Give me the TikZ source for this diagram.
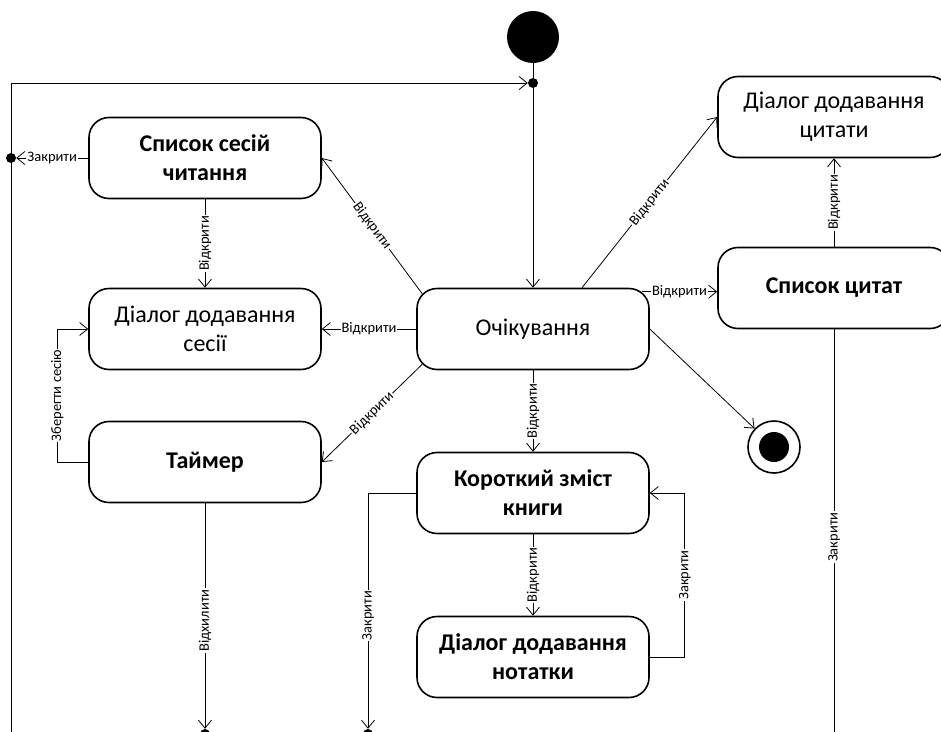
\documentclass[tikz,border=0pt]{standalone}
\usepackage{fontspec}
\setmainfont{Carlito}
\usetikzlibrary{arrows.meta}

\begin{document}
\begin{tikzpicture}[x=1pt, y=-1pt,
    stbox/.style={draw, line width=1.6pt, rounded corners=20pt, align=center, minimum width=232pt, minimum height=81pt, font=\fontsize{24}{29}\selectfont},
    stboxb/.style={stbox, font=\fontsize{24}{29}\selectfont\bfseries},
    flow/.style={line width=0.8pt, -{Straight Barb[length=8pt, width=13pt]}},
    lbl/.style={fill=white, inner sep=1pt, font=\fontsize{14.5}{14.5}\selectfont},
    vlbl/.style={lbl, rotate=90},
    dot/.style={circle, fill, inner sep=0pt, minimum size=10pt}]

    \useasboundingbox (0,0) rectangle (941,731);
    \clip (0,0) rectangle (941,731);

    \node[stboxb] (sessions) at (205,158) {Список сесій\\читання};
    \node[stbox] (addsession) at (205,329) {Діалог додавання\\сесії};
    \node[stboxb] (timer) at (205,462) {Таймер};
    \node[stbox] (idle) at (533,329) {Очікування};
    \node[stbox] (addquote) at (834,117) {Діалог додавання\\цитати};
    \node[stboxb] (quotes) at (834,288) {Список цитат};
    \node[stboxb] (summary) at (533,493) {Короткий зміст\\книги};
    \node[stboxb] (addnote) at (533,657) {Діалог додавання\\нотатки};

    \node[circle, fill, minimum size=52pt] (start) at (533,37) {};
    \node[dot] (fork) at (533,83) {};
    \node[circle, draw, line width=1.6pt, minimum size=52pt] (final) at (774,447) {};
    \fill (final) circle (15pt);
    \node[dot] (closedot) at (11,158) {};
    \node[dot] (exitA) at (205,734) {};
    \node[dot] (exitB) at (368,734) {};
    \coordinate (lefttop) at (11,83);
    \coordinate (leftbot) at (11,745);
    \coordinate (quotesbot) at (834,745);
    \coordinate (qstart) at ([xshift=-8pt,yshift=-4pt]idle.north east);

    \draw[line width=0.8pt] (start) -- (fork);
    \draw[flow] (leftbot) -- (lefttop) -- (fork);
    \draw[flow] (fork) -- (idle);

    \draw[flow] ([xshift=6pt,yshift=-6pt]idle.north west) -- (sessions.east) node[lbl, sloped, midway] {Відкрити};
    \draw[flow] (idle.west) -- (addsession.east) node[lbl, midway] {Відкрити};
    \draw[flow] ([xshift=6pt,yshift=6pt]idle.south west) -- (timer.east) node[lbl, sloped, midway] {Відкрити};
    \draw[flow] (sessions.south) -- (addsession.north) node[vlbl, midway] {Відкрити};
    \draw[flow] (timer.west) -- ++(-31,0) |- (addsession.west) node[vlbl, pos=0.25] {Зберегти сесію};
    \draw[flow] (sessions.west) -- (closedot) node[lbl, midway] {Закрити};
    \draw[flow] (timer.south) -- (exitA) node[vlbl, pos=0.52] {Відхилити};

    \draw[flow] (idle.south) -- (summary.north) node[vlbl, midway] {Відкрити};
    \draw[flow] (summary.south) -- (addnote.north) node[vlbl, midway] {Відкрити};
    \draw[flow] (addnote.east) -- ++(35,0) |- (summary.east) node[vlbl, pos=0.25] {Закрити};
    \draw[flow] (summary.west) -| (exitB) node[vlbl, pos=0.76] {Закрити};

    \draw[flow] ([xshift=49pt]idle.north) -- (addquote.west) node[lbl, sloped, midway] {Відкрити};
    \draw[flow] (qstart) -- (qstart -| quotes.west) node[lbl, midway] {Відкрити};
    \draw[flow] (quotes.north) -- (addquote.south) node[vlbl, midway] {Відкрити};
    \draw[line width=0.8pt] (quotes.south) -- (quotesbot) node[vlbl, pos=0.5] {Закрити};
    \draw[flow] (idle.east) -- (final);
\end{tikzpicture}
\end{document}
